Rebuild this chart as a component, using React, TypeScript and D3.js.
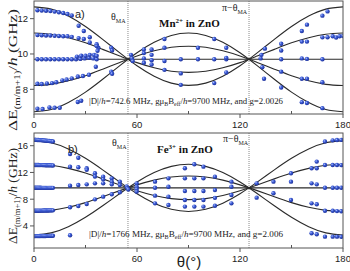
import * as d3 from "d3";

const W = 350;
const H = 271;
const xLeft = 34;
const xRight = 343;

const thetaTicks = [0, 60, 120, 180];
const thetaMinor = [30, 90, 150];
const thetaMA = 54.74;

// theory curves, sampled every 10 deg
const curveTheta = [0, 10, 20, 30, 40, 50, 60, 70, 80, 90, 100, 110, 120, 130, 140, 150, 160, 170, 180];

const mnCurveA = [12.67, 12.54, 12.15, 11.56, 10.83, 10.06, 9.33, 8.74, 8.35, 8.22, 8.35, 8.74, 9.33, 10.06, 10.83, 11.56, 12.15, 12.54, 12.67];
const mnCurveB = [11.19, 11.12, 10.92, 10.63, 10.26, 9.88, 9.51, 9.22, 9.02, 8.96, 9.02, 9.22, 9.51, 9.88, 10.26, 10.63, 10.92, 11.12, 11.19];
const mnCurveC = [9.7, 9.7, 9.7, 9.7, 9.7, 9.7, 9.7, 9.7, 9.7, 9.7, 9.7, 9.7, 9.7, 9.7, 9.7, 9.7, 9.7, 9.7, 9.7];
const mnCurveD = [8.21, 8.28, 8.48, 8.77, 9.14, 9.52, 9.89, 10.18, 10.38, 10.44, 10.38, 10.18, 9.89, 9.52, 9.14, 8.77, 8.48, 8.28, 8.21];
const mnCurveE = [6.73, 6.86, 7.25, 7.84, 8.57, 9.34, 10.07, 10.66, 11.05, 11.19, 11.05, 10.66, 10.07, 9.34, 8.57, 7.84, 7.25, 6.86, 6.73];

const feCurveA = [16.76, 16.44, 15.52, 14.12, 12.39, 10.55, 8.82, 7.41, 6.49, 6.17, 6.49, 7.41, 8.82, 10.55, 12.39, 14.12, 15.52, 16.44, 16.76];
const feCurveB = [13.23, 13.07, 12.61, 11.91, 11.04, 10.12, 9.26, 8.55, 8.09, 7.93, 8.09, 8.55, 9.26, 10.12, 11.04, 11.91, 12.61, 13.07, 13.23];
const feCurveC = [9.7, 9.7, 9.7, 9.7, 9.7, 9.7, 9.7, 9.7, 9.7, 9.7, 9.7, 9.7, 9.7, 9.7, 9.7, 9.7, 9.7, 9.7, 9.7];
const feCurveD = [6.17, 6.33, 6.79, 7.49, 8.36, 9.28, 10.14, 10.85, 11.31, 11.47, 11.31, 10.85, 10.14, 9.28, 8.36, 7.49, 6.79, 6.33, 6.17];
const feCurveE = [2.64, 2.96, 3.88, 5.29, 7.01, 8.85, 10.58, 11.99, 12.91, 13.23, 12.91, 11.99, 10.58, 8.85, 7.01, 5.29, 3.88, 2.96, 2.64];

// measured points, [theta, GHz]
const mnPointsLeft: [number, number][] = [
  [2, 12.48], [4.5, 12.46], [7, 12.45], [9.5, 12.43], [12, 12.4], [14.5, 12.36], [17, 12.32], [19.5, 12.26], [22, 12.18],
  [26, 11.6], [29, 11.3], [32.5, 10.95], [36.5, 10.55], [37.5, 10.35], [37, 10.18],
  [2, 11.07], [4.5, 11.06], [7, 11.05], [9.5, 11.05], [12, 11.03], [14.5, 11.02], [17, 11.0], [19.5, 11.0], [22, 10.97],
  [26, 10.9], [29, 10.85], [32.5, 10.65], [36.5, 10.45],
  [2, 9.7], [4.5, 9.7], [7, 9.7], [9.5, 9.7], [12, 9.7], [14.5, 9.7], [17, 9.7], [19.5, 9.7], [22, 9.7], [24.5, 9.7],
  [27, 9.72], [29.5, 9.75], [32, 9.78], [34.5, 9.75], [36.5, 9.7],
  [25, 9.85], [27.5, 9.9], [30, 9.9], [32.5, 9.95], [35, 9.95], [36.5, 9.9],
  [2, 8.31], [4.5, 8.3], [7.5, 8.33], [10.5, 8.35], [13, 8.4], [16.5, 8.5], [19, 8.55], [22, 8.62], [25.5, 8.72],
  [28.5, 8.75], [32, 8.82], [36, 9.28],
  [45, 10.35], [45.5, 10.2], [45, 9.0], [45.5, 8.88],
  [2, 6.9], [5, 6.88], [9, 6.97], [12, 6.95], [15, 6.95], [25.5, 7.28], [27.5, 7.35],
];

const mnPointsMid: [number, number][] = [
  [56.5, 9.95], [57, 9.75], [57.5, 9.6],
  [64, 10.25], [64, 10.05], [64, 9.75], [64, 9.5],
  [68.5, 10.25], [68.5, 9.95], [68.5, 9.65], [68.5, 9.4],
  [76, 10.85], [76, 10.35], [76, 9.6], [76, 9.1],
  [85.5, 9.7], [85.5, 8.9], [85.5, 8.25],
  [95.5, 10.35], [95.5, 9.7],
  [105, 10.85], [105, 9.7], [105, 8.35],
  [112, 10.35], [112, 9.7], [112, 9.78], [112, 8.95],
];

const mnPointsRight: [number, number][] = [
  [132, 9.75], [132.5, 9.95], [133, 9.25], [134.5, 10.3], [134, 8.6],
  [144, 10.58], [144, 10.2], [144, 9.7], [144, 9.0], [144, 8.1],
  [156, 11.3], [156, 10.7], [156, 9.75], [156, 8.6], [156, 7.27],
  [159, 11.66], [159, 10.7], [159, 9.72], [159, 8.6], [159, 7.22],
  [168, 12.17], [168, 10.94], [168, 9.7], [168, 8.4], [168, 6.93],
  [171, 12.41], [171, 10.95], [174, 11.0], [176, 10.93], [178, 11.0], [180, 11.02],
];

const feDenseTheta = [0.5, 1.2, 1.9, 2.6, 3.3, 4, 4.7, 5.4, 6.1, 6.8, 7.5, 8.2, 8.9, 9.6, 10.3, 11];
const feDenseA = [16.88, 16.87, 16.86, 16.85, 16.84, 16.83, 16.81, 16.8, 16.78, 16.76, 16.74, 16.72, 16.7, 16.68, 16.66, 16.64];
const feDenseB = [13.12, 13.12, 13.11, 13.11, 13.1, 13.1, 13.1, 13.09, 13.09, 13.08, 13.08, 13.07, 13.07, 13.06, 13.06, 13.05];
const feDenseC = [9.72, 9.72, 9.72, 9.71, 9.71, 9.71, 9.7, 9.7, 9.7, 9.7, 9.7, 9.7, 9.7, 9.7, 9.7, 9.7];
const feDenseD = [6.28, 6.28, 6.28, 6.28, 6.29, 6.29, 6.29, 6.3, 6.3, 6.3, 6.31, 6.31, 6.32, 6.32, 6.33, 6.33];
const feDenseE = [2.48, 2.48, 2.48, 2.48, 2.49, 2.49, 2.49, 2.5, 2.5, 2.5, 2.51, 2.51, 2.52, 2.52, 2.53, 2.53];

const fePointsLeft: [number, number][] = [
  [21, 14.76], [21, 12.86], [21, 10.02], [21, 6.79], [21, 2.6],
  [25.8, 14.2], [25.8, 12.77], [25.8, 10.12], [25.8, 6.99],
  [30.7, 12.62], [30.7, 12.4], [30.7, 10.22], [30.7, 7.29],
  [35.5, 11.87], [35.5, 11.4], [35.5, 10.37], [35.5, 7.98],
  [40.3, 11.37], [40.3, 10.97], [40.3, 10.37], [40.3, 8.38],
  [45.3, 11.12], [45.3, 10.62], [45.3, 10.22], [45.3, 8.73],
  [50, 10.62], [50, 10.12], [50, 9.03],
  [54, 9.9], [54.5, 9.6], [55, 9.45],
];

const fePointsMid: [number, number][] = [
  [59.8, 10.37], [59.8, 9.87], [59.8, 9.52], [59.8, 9.13],
  [70.5, 10.62], [70.5, 9.72], [70.5, 8.53], [70.5, 7.38],
  [78.3, 11.12], [78.3, 9.87], [78.3, 8.38], [78.3, 7.14],
  [87.9, 12.62], [87.9, 11.12], [87.9, 9.23], [87.9, 7.89], [87.9, 6.89],
  [93.4, 13.22], [93.4, 11.12], [93.4, 9.23], [93.4, 7.89], [93.4, 6.89],
  [98.7, 12.87], [98.7, 11.12], [98.7, 9.23], [98.7, 7.89], [98.7, 6.89],
  [105.4, 11.37], [105.4, 9.37], [105.4, 8.2], [105.4, 7.03],
  [115, 10.62], [115, 9.87], [115, 8.63], [115, 7.38],
];

const fePointsRight: [number, number][] = [
  [129.7, 10.37], [129.7, 8.23],
  [139.5, 10.62], [139.5, 8.88],
  [149.7, 11.87], [149.7, 10.62], [149.7, 7.89],
  [161.7, 12.62], [161.7, 10.37], [161.7, 7.38], [161.7, 2.9],
  [164.7, 13.62], [164.7, 12.62], [164.7, 10.22], [164.7, 7.24], [164.7, 2.75],
  [169.5, 16.62], [169.5, 13.12], [169.5, 9.72], [169.5, 6.27], [169.5, 2.4],
  [174, 16.8], [174, 13.12], [174, 9.72], [174, 6.27], [174, 2.4],
  [176.5, 16.85], [176.5, 13.12], [176.5, 9.72], [176.5, 6.22], [176.5, 2.4],
  [179, 16.87], [179, 13.1], [179, 9.72], [179, 6.2], [179, 2.38],
];

const mnTicks = [8, 10, 12];
const feTicks = [4, 8, 12, 16];

const serif = "'Liberation Serif', 'Times New Roman', serif";
const sans = "'Liberation Sans', Arial, sans-serif";

const x = d3.scaleLinear().domain([0, 180]).range([xLeft, xRight]);

type PanelProps = {
  top: number;
  bottom: number;
  domain: [number, number];
  ticks: number[];
  curves: number[][];
  points: [number, number][];
};

function Panel({ top, bottom, domain, ticks, curves, points }: PanelProps) {
  const y = d3.scaleLinear().domain(domain).range([bottom, top]);
  const line = d3
    .line<number>()
    .x((_, i) => x(curveTheta[i]))
    .y((d) => y(d))
    .curve(d3.curveNatural);
  return (
    <g>
      <defs>
        <clipPath id={"clip" + top}>
          <rect x={xLeft} y={top} width={xRight - xLeft} height={bottom - top} />
        </clipPath>
      </defs>
      {[thetaMA, 180 - thetaMA].map((t) => (
        <line key={t} x1={x(t)} x2={x(t)} y1={top} y2={bottom} stroke="#8a8a8a" strokeWidth={1} strokeDasharray="1,1" />
      ))}
      <g clipPath={`url(#clip${top})`}>
        {curves.map((c, i) => (
          <path key={i} d={line(c) || ""} fill="none" stroke="#2a2a2a" strokeWidth={1.1} />
        ))}
        {points.map((p, i) => (
          <circle key={i} cx={x(p[0])} cy={y(p[1])} r={2.2} fill="url(#ball)" />
        ))}
      </g>
      <rect x={xLeft} y={top} width={xRight - xLeft} height={bottom - top} fill="none" stroke="#555" strokeWidth={1} />
      {ticks.map((t) => (
        <g key={t}>
          <line x1={xLeft - 4} x2={xLeft} y1={y(t)} y2={y(t)} stroke="#555" />
          <text x={xLeft - 6} y={y(t) + 3.5} textAnchor="end" fontFamily={sans} fontSize={9.5} fill="#222">
            {t}
          </text>
        </g>
      ))}
      {thetaTicks.map((t) => (
        <g key={t}>
          <line x1={x(t)} x2={x(t)} y1={bottom} y2={bottom + 4} stroke="#555" />
          <text x={x(t)} y={bottom + 14} textAnchor="middle" fontFamily={sans} fontSize={9.5} fill="#222">
            {t}
          </text>
        </g>
      ))}
      {thetaMinor.map((t) => (
        <line key={t} x1={x(t)} x2={x(t)} y1={bottom} y2={bottom - 3} stroke="#555" />
      ))}
    </g>
  );
}

const sub = (s: string, size = 6) => (
  <>
    <tspan dy={2.5} fontSize={size}>{s}</tspan>
    <tspan dy={-2.5}></tspan>
  </>
);

function YLabel({ cy, len }: { cy: number; len: number }) {
  return (
    <text
      transform={`translate(17,${cy}) rotate(-90)`}
      textAnchor="middle"
      fontFamily={serif}
      fontSize={13.5}
      fill="#222"
      textLength={len}
      lengthAdjust="spacingAndGlyphs"
    >
      ΔE
      <tspan dy={3} fontSize={8.5}>(m/m+1)</tspan>
      <tspan dy={-3}>/</tspan>
      <tspan fontStyle="italic">h</tspan> (GHz)
    </text>
  );
}

function Annot({ y, text, g }: { y: number; text: string; g: string }) {
  return (
    <text x={89} y={y} fontFamily={serif} fontSize={9} fill="#222" textLength={194} lengthAdjust="spacingAndGlyphs">
      |D|/<tspan fontStyle="italic">h</tspan>={text} MHz, gμ
      <tspan dy={2} fontSize={6}>B</tspan>
      <tspan dy={-2}>B</tspan>
      <tspan dy={2} fontSize={6}>eff</tspan>
      <tspan dy={-2}>/</tspan>
      <tspan fontStyle="italic">h</tspan>=9700 MHz, and g={g}
    </text>
  );
}

export default function App() {
  const mnPoints = [...mnPointsLeft, ...mnPointsMid, ...mnPointsRight];
  const feDense: [number, number][] = [];
  [feDenseA, feDenseB, feDenseC, feDenseD, feDenseE].forEach((arr) =>
    arr.forEach((v, i) => feDense.push([feDenseTheta[i], v]))
  );
  const fePoints = [...feDense, ...fePointsLeft, ...fePointsMid, ...fePointsRight];

  return (
    <svg width={W} height={H} style={{ position: "absolute", left: 0, top: 0, background: "#fff" }}>
      <defs>
        <radialGradient id="ball" cx="35%" cy="35%" r="70%">
          <stop offset="0%" stopColor="#b9c8ff" />
          <stop offset="35%" stopColor="#3f5fd8" />
          <stop offset="100%" stopColor="#1a2d96" />
        </radialGradient>
      </defs>
      <Panel
        top={1}
        bottom={114}
        domain={[6.6, 13]}
        ticks={mnTicks}
        curves={[mnCurveA, mnCurveB, mnCurveC, mnCurveD, mnCurveE]}
        points={mnPoints}
      />
      <Panel
        top={133}
        bottom={248}
        domain={[0.7, 17.9]}
        ticks={feTicks}
        curves={[feCurveA, feCurveB, feCurveC, feCurveD, feCurveE]}
        points={fePoints}
      />

      <YLabel cy={70} len={122} />
      <YLabel cy={196} len={96} />

      <text x={75} y={18} fontFamily={sans} fontSize={11} fill="#222">a)</text>
      <text x={68} y={153} fontFamily={sans} fontSize={11} fill="#222">b)</text>

      <text x={111} y={20} fontFamily={serif} fontSize={10} fill="#222">θ{sub("MA")}</text>
      <text x={112} y={146} fontFamily={serif} fontSize={10} fill="#222">θ{sub("MA")}</text>
      <text x={222} y={11} fontFamily={serif} fontSize={10} fill="#222">π−θ{sub("MA")}</text>
      <text x={223} y={142} fontFamily={serif} fontSize={10} fill="#222">π−θ{sub("MA")}</text>

      <text x={159} y={27} fontFamily={serif} fontSize={11} fontWeight="bold" fill="#111">
        Mn<tspan dy={-4} fontSize={7}>2+</tspan>
        <tspan dy={4}> in ZnO</tspan>
      </text>
      <text x={157} y={153} fontFamily={serif} fontSize={11} fontWeight="bold" fill="#111">
        Fe<tspan dy={-4} fontSize={7}>3+</tspan>
        <tspan dy={4}> in ZnO</tspan>
      </text>

      <Annot y={104} text="742.6" g="2.0026" />
      <Annot y={237} text="1766" g="2.006" />

      <text x={189} y={267} textAnchor="middle" fontFamily={sans} fontSize={15} fill="#222">θ(°)</text>
    </svg>
  );
}
